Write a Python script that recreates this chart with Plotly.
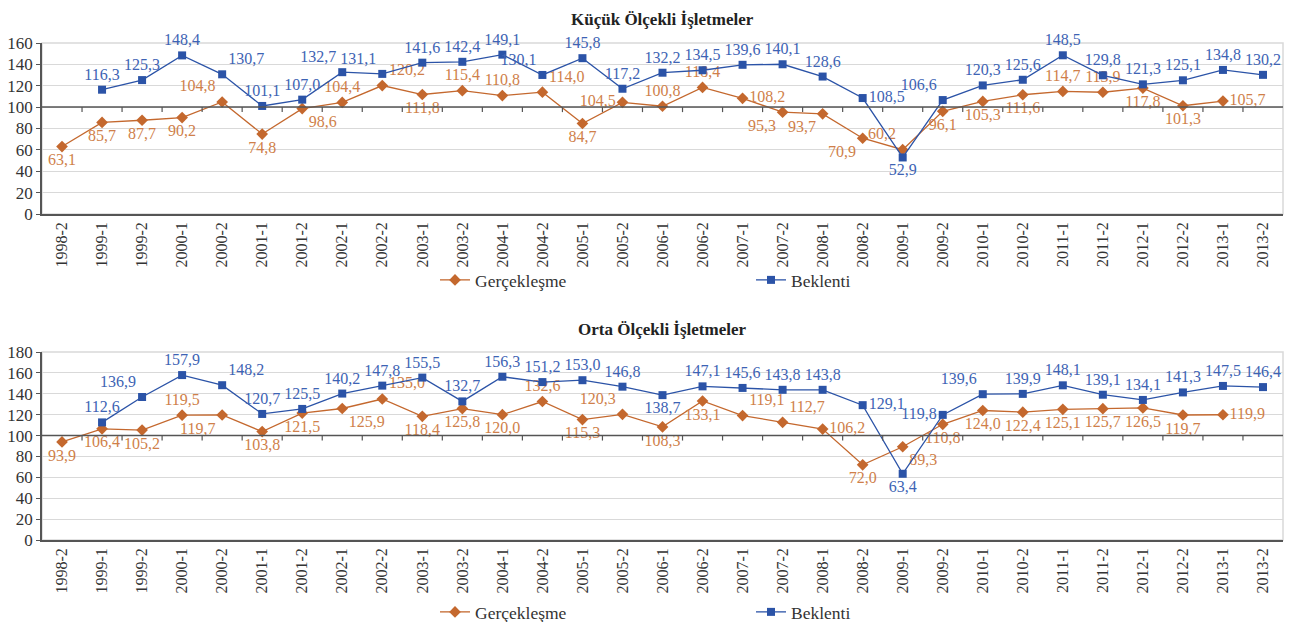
import plotly.graph_objects as go

categories = ["1998-2", "1999-1", "1999-2", "2000-1", "2000-2", "2001-1", "2001-2", "2002-1",
              "2002-2", "2003-1", "2003-2", "2004-1", "2004-2", "2005-1", "2005-2", "2006-1",
              "2006-2", "2007-1", "2007-2", "2008-1", "2008-2", "2009-1", "2009-2", "2010-1",
              "2010-2", "2011-1", "2011-2", "2012-1", "2012-2", "2013-1", "2013-2"]

kucuk_gerceklesme = [63.1, 85.7, 87.7, 90.2, 104.8, 74.8, 98.6, 104.4, 120.2, 111.8, 115.4, 110.8,
                     114.0, 84.7, 104.5, 100.8, 118.4, 108.2, 95.3, 93.7, 70.9, 60.2, 96.1, 105.3,
                     111.6, 114.7, 113.9, 117.8, 101.3, 105.7, None]
kucuk_beklenti = [None, 116.3, 125.3, 148.4, 130.7, 101.1, 107.0, 132.7, 131.1, 141.6, 142.4, 149.1,
                  130.1, 145.8, 117.2, 132.2, 134.5, 139.6, 140.1, 128.6, 108.5, 52.9, 106.6, 120.3,
                  125.6, 148.5, 129.8, 121.3, 125.1, 134.8, 130.2]

orta_gerceklesme = [93.9, 106.4, 105.2, 119.5, 119.7, 103.8, 121.5, 125.9, 135.0, 118.4, 125.8, 120.0,
                    132.6, 115.3, 120.3, 108.3, 133.1, 119.1, 112.7, 106.2, 72.0, 89.3, 110.8, 124.0,
                    122.4, 125.1, 125.7, 126.5, 119.7, 119.9, None]
orta_beklenti = [None, 112.6, 136.9, 157.9, 148.2, 120.7, 125.5, 140.2, 147.8, 155.5, 132.7, 156.3,
                 151.2, 153.0, 146.8, 138.7, 147.1, 145.6, 143.8, 143.8, 129.1, 63.4, 119.8, 139.6,
                 139.9, 148.1, 139.1, 134.1, 141.3, 147.5, 146.4]

# label positions (style)
T, B, TL, TR, R, L, BR, BL = ("top center", "bottom center", "top left", "top right",
                              "middle right", "middle left", "bottom right", "bottom left")
pos_kg = [B, B, B, B, TL, B, BR, T, TR, B, T, T, TR, B, L, T, T, R, BL, BL, BL, TL, B, B,
          B, T, T, B, B, R, B]
pos_kb = [T, T, T, T, TR, T, T, TL, TL, T, T, T, TL, T, T, T, T, T, T, T, R, B, TL, T,
          T, T, T, T, T, T, T]
pos_og = [B, B, B, T, BL, B, B, BR, TR, B, B, B, T, B, TL, B, B, TR, TR, R, B, BR, B, B,
          B, B, B, B, B, R, B]
pos_ob = [T, T, TL, T, TR, T, T, T, T, T, T, T, T, T, T, B, T, T, T, T, R, B, L, TL,
          T, T, T, T, T, T, T]

ORANGE = "#C4682E"
ORANGE_TXT = "#CF7F4A"
BLUE = "#2B53A7"
BLUE_TXT = "#3D63B4"
FONT = "Liberation Serif"


def fmt(vals):
    return ["" if v is None else f"{v:.1f}".replace(".", ",") for v in vals]


fig = go.Figure()

panels = [
    dict(g=kucuk_gerceklesme, b=kucuk_beklenti, pg=pos_kg, pb=pos_kb, xa="x", ya="y",
         legend="legend", title="Küçük Ölçekli İşletmeler"),
    dict(g=orta_gerceklesme, b=orta_beklenti, pg=pos_og, pb=pos_ob, xa="x2", ya="y2",
         legend="legend2", title="Orta Ölçekli İşletmeler"),
]

for p in panels:
    fig.add_trace(go.Scatter(
        x=categories, y=p["g"], name="Gerçekleşme", mode="lines+markers+text",
        text=fmt(p["g"]), textposition=p["pg"],
        textfont=dict(family=FONT, size=16, color=ORANGE_TXT),
        line=dict(color=ORANGE, width=1.3), marker=dict(symbol="diamond", size=9, color=ORANGE),
        xaxis=p["xa"], yaxis=p["ya"], legend=p["legend"], cliponaxis=False, connectgaps=False))
    fig.add_trace(go.Scatter(
        x=categories, y=p["b"], name="Beklenti", mode="lines+markers+text",
        text=fmt(p["b"]), textposition=p["pb"],
        textfont=dict(family=FONT, size=16, color=BLUE_TXT),
        line=dict(color=BLUE, width=1.3), marker=dict(symbol="square", size=8, color=BLUE),
        xaxis=p["xa"], yaxis=p["ya"], legend=p["legend"], cliponaxis=False, connectgaps=False))

# page body has an 8px margin; figure fills the rest of the 1303x622 window
OFF = 8
W, H = 1303 - OFF, 622 - OFF
L_PX, R_PX = 42 - OFF, 1283 - OFF


def yfrac(screen_y):
    return 1 - (screen_y - OFF) / H


top_dom = [yfrac(214), yfrac(43)]
bot_dom = [yfrac(540), yfrac(352)]
plot_w = R_PX - L_PX

xcommon = dict(type="category", categoryorder="array", categoryarray=categories,
               tickangle=-90, tickfont=dict(family=FONT, size=16, color="#333333"),
               showline=True, linecolor="#555555", linewidth=1.5, showgrid=False,
               ticks="", range=[-0.5, len(categories) - 0.5], zeroline=False, automargin=False)
ycommon = dict(tickfont=dict(family=FONT, size=17, color="#333333"), showline=True,
               linecolor="#555555", linewidth=1.5, ticks="outside", ticklen=4,
               tickcolor="#555555", gridcolor="#D9D9D9", gridwidth=1.3, zeroline=False,
               automargin=False)

leg_x = (440 - OFF - 5 - L_PX) / plot_w
legcommon = dict(orientation="h", xanchor="left", yanchor="middle",
                 font=dict(family=FONT, size=17.5, color="#333333"), entrywidth=271,
                 bgcolor="rgba(0,0,0,0)", itemwidth=30)

fig.update_layout(
    width=W, height=H, plot_bgcolor="white", paper_bgcolor="white",
    margin=dict(l=L_PX, r=W - R_PX, t=0, b=0, autoexpand=False), showlegend=True,
    xaxis=dict(xcommon, domain=[0, 1], anchor="y"),
    yaxis=dict(ycommon, domain=top_dom, range=[0, 160], dtick=20, anchor="x"),
    xaxis2=dict(xcommon, domain=[0, 1], anchor="y2"),
    yaxis2=dict(ycommon, domain=bot_dom, range=[0, 180], dtick=20, anchor="x2"),
    legend=dict(legcommon, x=leg_x, y=yfrac(280)),
    legend2=dict(legcommon, x=leg_x, y=yfrac(612)),
)

shapes = []
annotations = []
for p, ty in zip(panels, [8, 318]):
    xa, ya = p["xa"], p["ya"]
    # light border around plot area
    shapes.append(dict(type="rect", xref=f"{xa} domain", yref=f"{ya} domain", x0=0, x1=1, y0=0, y1=1,
                       line=dict(color="#D9D9D9", width=1.5), layer="below"))
    # category axis crossing line at 100
    shapes.append(dict(type="line", xref=f"{xa} domain", yref=ya, x0=0, x1=1, y0=100, y1=100,
                       line=dict(color="#555555", width=1.5)))
    for i in range(1, len(categories)):
        shapes.append(dict(type="line", xref=xa, yref=ya, ysizemode="pixel", yanchor=100,
                           x0=i - 0.5, x1=i - 0.5, y0=0, y1=-5,
                           line=dict(color="#555555", width=1.2)))
    annotations.append(dict(text=f"<b>{p['title']}</b>", xref="paper", yref="paper",
                            x=0.5, y=yfrac(ty), xanchor="center", yanchor="top",
                            showarrow=False, font=dict(family=FONT, size=17, color="#222222")))

fig.update_layout(shapes=shapes, annotations=annotations)

fig.write_html("out.html")
